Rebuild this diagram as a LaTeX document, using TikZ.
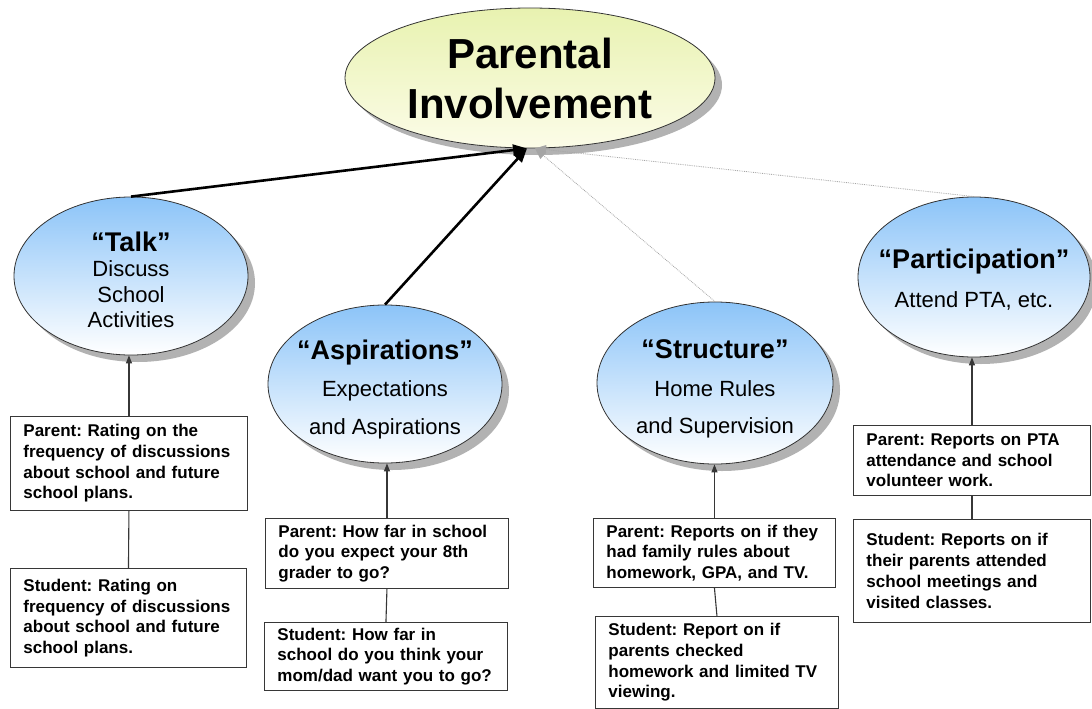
\documentclass[tikz,border=0pt]{standalone}
\usepackage{fontspec}
\setmainfont{Liberation Sans}
\usetikzlibrary{shapes.geometric,shadows,arrows.meta}
\frenchspacing
\definecolor{blueTop}{RGB}{140,196,248}
\definecolor{yelTop}{RGB}{232,242,176}
\definecolor{yelBot}{RGB}{252,252,232}
\definecolor{shadowgray}{RGB}{178,178,178}
\definecolor{linegray}{RGB}{55,55,55}
\definecolor{dotgray}{RGB}{165,165,165}
\newcommand{\ttl}[1]{{\fontsize{27}{27}\selectfont\bfseries #1}}
\tikzset{
 oval/.style={ellipse, draw=black!80, line width=0.8pt, inner sep=0pt,
   drop shadow={shadow xshift=7pt,shadow yshift=-7pt,fill=shadowgray,opacity=1}},
 blueoval/.style={oval, top color=blueTop, bottom color=white},
 lbl/.style={align=center, inner sep=0pt},
 qbox/.style={draw=linegray, line width=0.9pt, fill=white, anchor=north west,
   inner xsep=13pt, inner ysep=0pt, align=left,
   font=\fontsize{17}{20.7}\selectfont\bfseries\frenchspacing},
 up/.style={draw=linegray, line width=1.1pt, -{Triangle[length=8pt,width=6pt]}},
 link/.style={draw=linegray, line width=1.1pt},
 mainarrow/.style={draw=black, line width=2.6pt, -{Triangle[length=14pt,width=11pt]}},
 faint/.style={draw=dotgray, line width=0.8pt, densely dotted, -{Triangle[length=11pt,width=9pt]}},
}
\begin{document}
\begin{tikzpicture}[x=1pt,y=-1pt]
\useasboundingbox[fill=white] (0,0) rectangle (1092,709);

% central ellipse
\node[oval, top color=yelTop, bottom color=yelBot, minimum width=370pt, minimum height=140pt,
  label={[lbl,font=\fontsize{42}{50}\selectfont\bfseries]center:{Parental\\Involvement}}] (pi) at (530,78) {};

% second level ellipses
\node[blueoval, minimum width=234pt, minimum height=158pt,
  label={[lbl,yshift=-4pt,font=\fontsize{22}{25.5}\selectfont]center:{\ttl{“Talk”}\\Discuss\\School\\Activities}}] (talk) at (131,276) {};
\node[blueoval, minimum width=234pt, minimum height=158pt,
  label={[lbl,yshift=-5pt,font=\fontsize{22}{37.5}\selectfont]center:{\ttl{“Aspirations”}\\Expectations\\and Aspirations}}] (asp) at (385,384) {};
\node[blueoval, minimum width=236pt, minimum height=162pt,
  label={[lbl,yshift=-6pt,font=\fontsize{22}{37.5}\selectfont]center:{\ttl{“Structure”}\\Home Rules\\and Supervision}}] (str) at (715,383) {};
\node[blueoval, minimum width=232pt, minimum height=160pt,
  label={[lbl,yshift=-3pt,font=\fontsize{22}{39}\selectfont]center:{\ttl{“Participation”}\\Attend PTA, etc.}}] (par) at (974,277) {};

% question boxes
\node[qbox, minimum width=237pt, minimum height=94pt, text width=211pt] (tp) at (10,416)
  {Parent: Rating on the\\frequency of discussions\\about school and future\\school plans.};
\node[qbox, minimum width=236pt, minimum height=99pt, text width=210pt] (ts) at (10,568)
  {Student: Rating on\\frequency of discussions\\about school and future\\school plans.};
\node[qbox, minimum width=243pt, minimum height=70pt, text width=217pt] (ap) at (265,518)
  {Parent: How far in school\\do you expect your 8th\\grader to go?};
\node[qbox, minimum width=243pt, minimum height=68pt, text width=217pt] (as) at (264,622)
  {Student: How far in\\school do you think your\\mom/dad want you to go?};
\node[qbox, minimum width=242pt, minimum height=69pt, text width=216pt] (sp) at (593,518)
  {Parent: Reports on if they\\had family rules about\\homework, GPA, and TV.};
\node[qbox, minimum width=243pt, minimum height=92pt, text width=217pt] (ss) at (595,616)
  {Student: Report on if\\parents checked\\homework and limited TV\\viewing.};
\node[qbox, minimum width=237pt, minimum height=70pt, text width=211pt] (pp) at (853,425)
  {Parent: Reports on PTA\\attendance and school\\volunteer work.};
\node[qbox, minimum width=237pt, minimum height=103pt, text width=211pt] (ps) at (853,519)
  {Student: Reports on if\\their parents attended\\school meetings and\\visited classes.};

% box connectors
\draw[up] (tp.north) -- (tp.north |- talk.south);
\draw[link] (ts.north) -- (tp.south);
\draw[up] (ap.north) -- (ap.north |- asp.south);
\draw[link] (as.north) -- (ap.south);
\draw[up] (sp.north) -- (sp.north |- str.south);
\draw[link] (ss.north) -- (sp.south);
\draw[up] (pp.north) -- (pp.north |- par.south);
\draw[link] (ps.north) -- (pp.south);

% main connectors
\draw[faint] (str.north) -- ([xshift=5pt]pi.south);
\draw[faint] (par.north) -- ([xshift=5pt]pi.south);
\draw[mainarrow] (talk.north) -- ([xshift=-3pt]pi.south);
\draw[mainarrow] (asp.north) -- ([xshift=-3pt]pi.south);
\end{tikzpicture}
\end{document}
